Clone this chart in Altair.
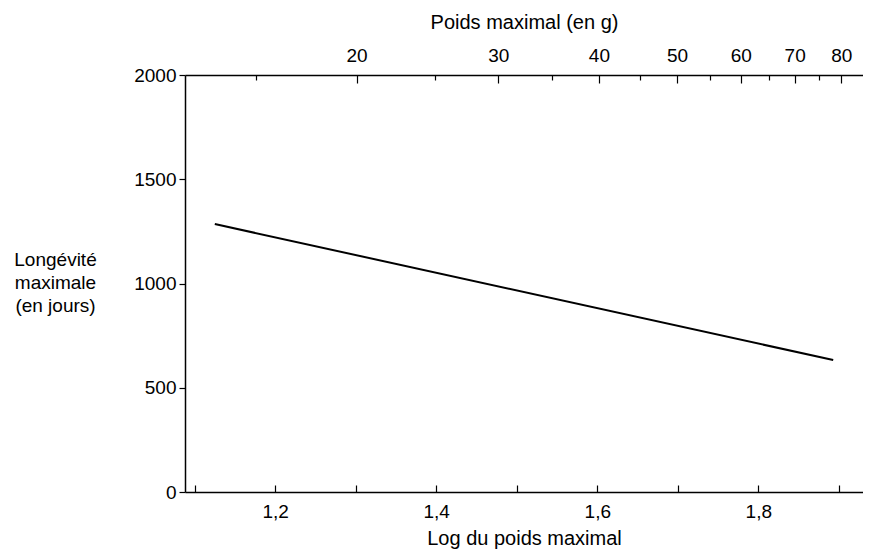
import math
import altair as alt
import pandas as pd

# ---- data ----
log_poids = [1.125, 1.893]        # Log du poids maximal
longevite = [1285, 633]           # Longévité maximale (en jours)

bottom_label_values = [1.2, 1.4, 1.6, 1.8]
bottom_tick_values = [1.1, 1.2, 1.3, 1.4, 1.5, 1.6, 1.7, 1.8, 1.9]
top_major_g = [20, 30, 40, 50, 60, 70, 80]
top_minor_g = [15, 25, 35, 45, 55, 65, 75]
y_tick_values = [0, 500, 1000, 1500, 2000]

df = pd.DataFrame({"logp": log_poids, "longevite": longevite})

FONT = "Liberation Sans"
FS = 19
TFS = 20
X_DOMAIN = [1.088, 1.93]
xscale = alt.Scale(domain=X_DOMAIN, nice=False, zero=False)
yscale = alt.Scale(domain=[0, 2000], nice=False)

top_major = [math.log10(g) for g in top_major_g]
top_minor = [math.log10(g) for g in top_minor_g]

base = alt.Chart(df)

main = base.mark_line(color="black", strokeWidth=2).encode(
    x=alt.X("logp:Q", scale=xscale, axis=alt.Axis(
        orient="bottom", values=bottom_label_values, ticks=False, tickSize=0,
        labelPadding=10, grid=False, domain=True,
        labelExpr="replace(format(datum.value, '.1f'), '.', ',')",
        title="Log du poids maximal", titlePadding=7, titleFontSize=TFS)),
    y=alt.Y("longevite:Q", scale=yscale, axis=alt.Axis(
        orient="left", values=y_tick_values, tickSize=6, labelPadding=3,
        grid=False, format="d",
        title=["Longévité", "maximale", "(en jours)"],
        titleAngle=0, titleAlign="center", titleBaseline="alphabetic",
        titleX=-130, titleY=190, titleLineHeight=23)),
)

def ghost(axis):
    return base.mark_line(strokeOpacity=0).encode(
        x=alt.X("logp:Q", scale=xscale, axis=axis),
        y=alt.Y("longevite:Q", scale=yscale, axis=None),
    )

bottom_ticks = ghost(alt.Axis(
    orient="bottom", values=bottom_tick_values, offset=-7, tickSize=7,
    labels=False, domain=False, grid=False, title=None))

top_main = ghost(alt.Axis(
    orient="top", values=top_major, ticks=False, tickSize=0, labelPadding=10,
    domain=True, grid=False,
    labelExpr="format(pow(10, datum.value), '.0f')",
    title="Poids maximal (en g)", titlePadding=14, titleFontSize=TFS))

top_major_ticks = ghost(alt.Axis(
    orient="top", values=top_major, offset=-8, tickSize=8,
    labels=False, domain=False, grid=False, title=None))

top_minor_ticks = ghost(alt.Axis(
    orient="top", values=top_minor, offset=-5, tickSize=5,
    labels=False, domain=False, grid=False, title=None))

chart = alt.layer(
    main, bottom_ticks, top_main, top_major_ticks, top_minor_ticks
).resolve_axis(x="independent", y="independent").properties(
    width=678, height=417,
    autosize=alt.AutoSizeParams(type="none"),
    padding={"left": 177, "top": 67, "right": 0, "bottom": 62},
).configure_view(stroke=None).configure_axis(
    labelFont=FONT, titleFont=FONT, labelFontSize=FS, titleFontSize=FS,
    labelColor="black", titleColor="black", titleFontWeight="normal",
    domainColor="black", tickColor="black", domainWidth=1.5, tickWidth=1.2,
)

chart.save("out.html", embed_options={"renderer": "svg", "actions": False})
